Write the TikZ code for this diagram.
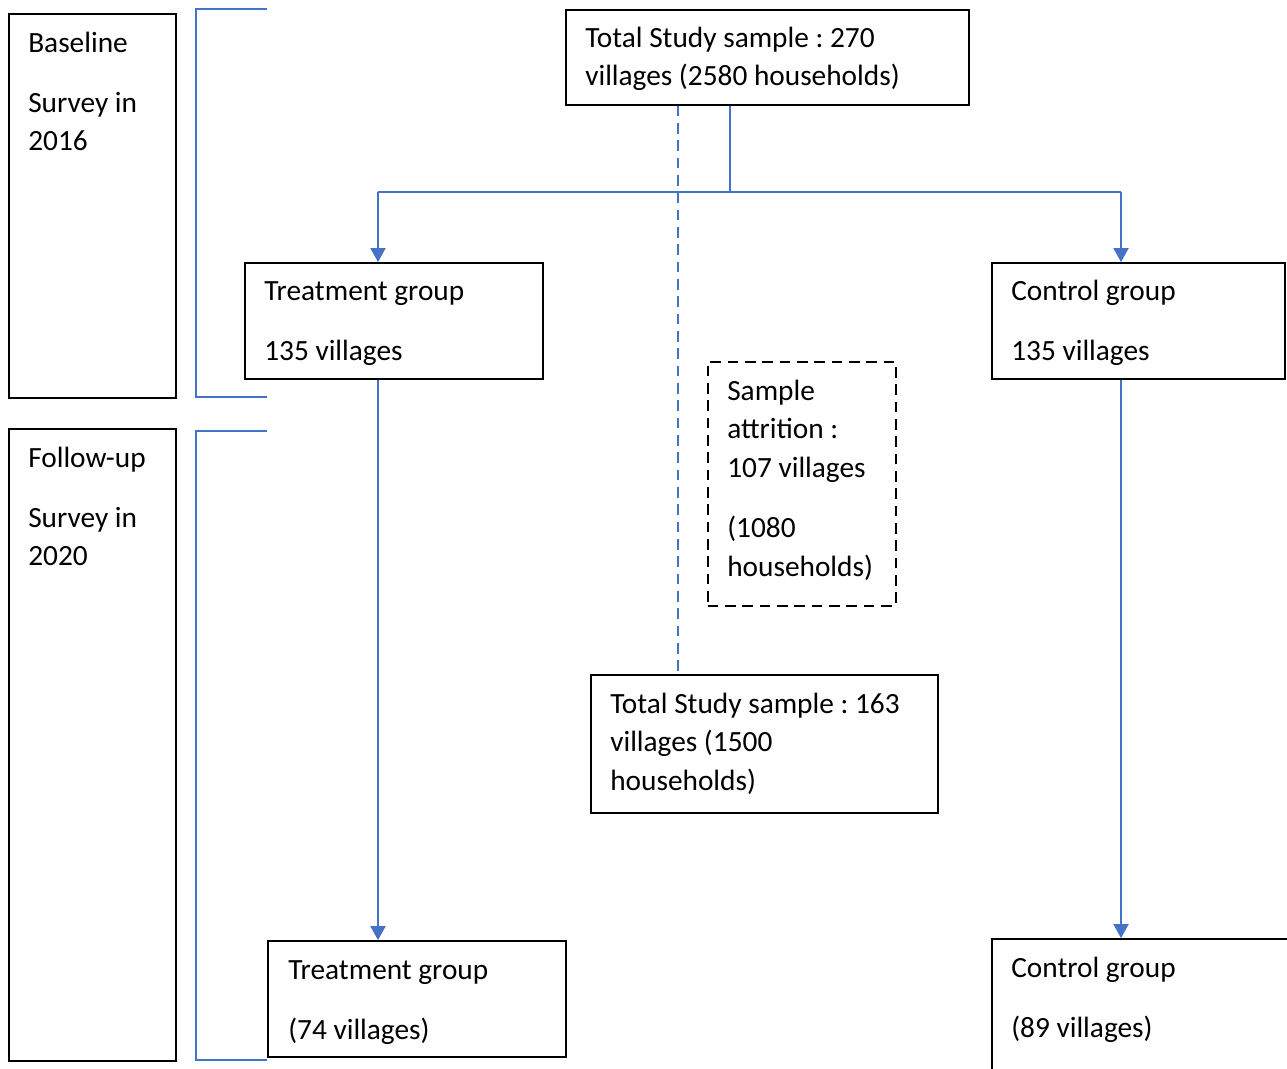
\documentclass[tikz,border=0pt]{standalone}
\usepackage{fontspec}
\setmainfont{Carlito}
\usetikzlibrary{arrows.meta}
\definecolor{wordblue}{HTML}{4472C4}
\newcommand\firstln{\rule{0pt}{19pt}}
\frenchspacing
\begin{document}
\begin{tikzpicture}[x=0.75pt,y=-0.75pt,
  box/.style={draw=black,line width=1.2pt,rectangle,inner sep=0pt,anchor=north west},
  dbox/.style={box,dash pattern=on 8pt off 5pt},
  txt/.style={inner sep=0pt,anchor=north west,align=left,font=\fontsize{22}{29}\selectfont},
  link/.style={draw=wordblue,line width=0.8pt},
  arr/.style={link,-{Triangle[length=10.5pt,width=11.5pt]}},
  dlink/.style={draw=wordblue,line width=1.8pt,dash pattern=on 8pt off 5pt}]
\useasboundingbox (0,0) rectangle (1287,1068);

% boxes
\node[box,minimum width=125.25pt,minimum height=288pt] (base) at (8,13) {};
\node[box,minimum width=125.25pt,minimum height=474pt] (follow) at (8,428) {};
\node[box,minimum width=302.25pt,minimum height=71.25pt] (top) at (565,9) {};
\node[box,minimum width=223.5pt,minimum height=87pt] (treat1) at (244,262) {};
\node[box,minimum width=219.75pt,minimum height=87pt] (ctrl1) at (991,262) {};
\node[dbox,minimum width=141pt,minimum height=183pt] (attr) at (707,361) {};
\node[box,minimum width=260.25pt,minimum height=103.5pt] (total2) at (590,674) {};
\node[box,minimum width=223.5pt,minimum height=87pt] (treat2) at (267,940) {};
\node[box,minimum width=231.75pt,minimum height=106.5pt] (ctrl2) at (991,938) {};

% texts
\node[txt] (baset) at (28,26.67) {\firstln Baseline\\[16pt]Survey in\\2016};
\node[txt] (followt) at (28,441.67) {\firstln Follow-up\\[16pt]Survey in\\2020};
\node[txt] (topt) at (585,21.67) {\firstln Total Study sample : 270\\villages (2580 households)};
\node[txt] (treat1t) at (264,274.67) {\firstln Treatment group\\[16pt]135 villages};
\node[txt] (ctrl1t) at (1011,274.67) {\firstln Control group\\[16pt]135 villages};
\node[txt] (attrt) at (727,374.67) {\firstln Sample\\attrition :\\107 villages\\[16pt](1080\\households)};
\node[txt] (total2t) at (610,687.67) {\firstln Total Study sample : 163\\villages (1500\\households)};
\node[txt] (treat2t) at (288,953.67) {\firstln Treatment group\\[16pt](74 villages)};
\node[txt] (ctrl2t) at (1011,951.67) {\firstln Control group\\[16pt](89 villages)};

% brackets
\draw[link] (267,9) -- (196,9) -- (196,397) -- (267,397);
\draw[link] (267,431) -- (196,431) -- (196,1060) -- (267,1060);

% connectors
\coordinate (j) at (730,192);
\coordinate (a1) at (378,192);
\coordinate (a2) at (1121,192);
\coordinate (dx) at (678,400);
\draw[link] (top.south -| j) -- (j);
\draw[link] (a1) -- (a2);
\draw[arr] (a1) -- (a1 |- treat1.north);
\draw[arr] (a2) -- (a2 |- ctrl1.north);
\draw[arr] (a1 |- treat1.south) -- (a1 |- treat2.north);
\draw[arr] (a2 |- ctrl1.south) -- (a2 |- ctrl2.north);
\draw[dlink] (dx |- top.south) -- (dx |- total2.north);
\end{tikzpicture}
\end{document}
